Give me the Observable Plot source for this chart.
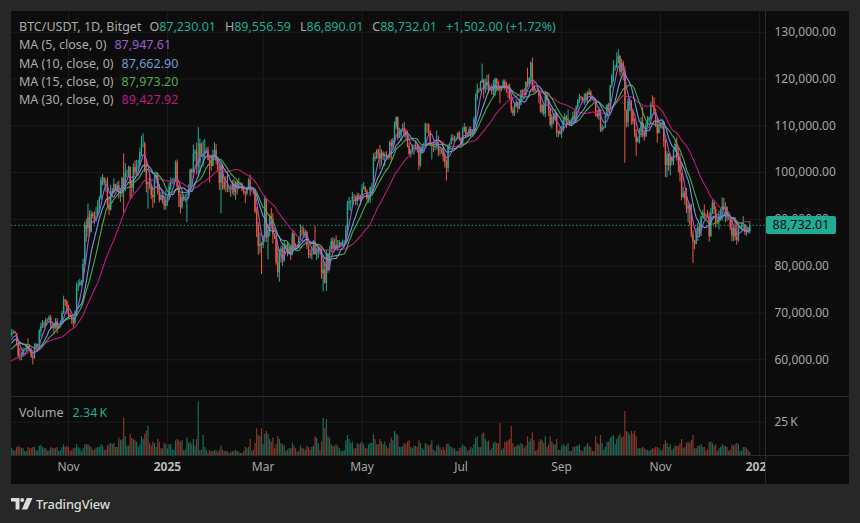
<!DOCTYPE html>
<html><head><meta charset="utf-8">
<script src="https://cdn.jsdelivr.net/npm/d3@7"></script>
<script src="https://cdn.jsdelivr.net/npm/@observablehq/plot@0.6"></script>
<style>
html,body{margin:0;padding:0;background:#272727;}
#wrap{position:relative;width:860px;height:523px;background:#272727;overflow:hidden;font-family:"Noto Sans","DejaVu Sans",sans-serif;}
.abs{position:absolute;}
.lbl{color:#ababab;}
.row{white-space:nowrap;height:18.3px;line-height:18.3px;font-size:12.5px;}
</style></head><body>
<div id="wrap">
  <div class="abs" style="left:11px;top:11px;width:838px;height:473px;background:#0c0c0c"></div>
  <div class="abs" id="price" style="left:11px;top:11px;width:838px;height:385px"></div>
  <div class="abs" id="vol" style="left:11px;top:396px;width:838px;height:88px"></div>
  <div class="abs" style="left:766px;top:456px;width:83px;height:28px;background:#0c0c0c"></div>
  <div class="abs" style="left:765px;top:11px;width:1px;height:473px;background:#2b2b2b"></div>
  <div class="abs" style="left:11px;top:396px;width:838px;height:1px;background:#2b2b2b"></div>
  <div class="abs" style="left:11px;top:455px;width:838px;height:1px;background:#2b2b2b"></div>
  <div class="abs" id="pricelabel"></div>
  <div class="abs" id="legend" style="left:19px;top:18px"></div>
  <div class="abs" id="vlegend" style="left:19px;top:404px"></div>
  <div class="abs" id="msg" style="left:300px;top:300px;color:yellow;font-size:14px"></div>
  <div class="abs" style="left:11px;top:497px;display:flex;align-items:center;">
    <svg width="22" height="12" viewBox="0 0 22 12"><path d="M0 0H8.5V11.5H4.6V3.6H0Z" fill="#dcdcdc"/><circle cx="11.2" cy="2" r="2" fill="#dcdcdc"/><path d="M15.8 0H21.5L16.3 11.5H10.8Z" fill="#dcdcdc"/></svg>
    <span style="margin-left:3px;color:#dcdcdc;font-size:12.8px;font-weight:500;line-height:14px;letter-spacing:-0.1px">TradingView</span>
  </div>
</div>
<script>
// ---------- DATA (prices in thousands of USDT, volume in thousands of BTC) ----------
// closes 2024-08-28 .. 2024-09-26 (only used to warm up the moving averages)
const warmupClose = [59.0,59.4,59.1,58.97,57.3,59.1,57.5,58.0,56.2,53.95,54.15,54.85,57.0,57.65,57.35,58.1,60.55,60.0,59.15,58.2,60.3,61.75,62.95,63.2,63.35,63.58,63.33,64.3,63.15,65.18];
const firstDay = "2024-09-27";
const close = [
65.79,65.89,65.60,63.33,
60.80,60.65,60.75,62.07,62.09,62.82,62.22,62.13,60.58,60.27,62.45,63.20,62.85,66.05,67.05,67.60,67.40,68.40,68.36,69.00,67.37,67.38,66.65,68.16,66.60,67.00,67.95,69.90,72.70,72.35,70.20,
69.50,69.35,68.75,67.80,69.35,75.60,75.90,76.50,76.70,80.35,88.70,87.95,90.40,87.30,91.05,90.60,89.85,90.50,92.30,94.30,98.30,98.90,97.75,97.95,93.00,91.95,95.95,95.65,97.45,96.40,
97.20,95.85,96.00,98.75,97.00,99.85,99.90,101.10,97.30,96.65,101.10,100.00,101.40,101.40,104.30,106.05,106.10,100.20,97.45,97.75,97.20,95.10,94.70,98.70,99.30,95.70,94.10,95.10,93.70,92.80,93.50,
94.60,96.90,98.10,98.20,98.30,102.10,96.90,95.00,92.50,94.70,94.50,94.50,94.50,96.50,100.50,99.90,104.10,104.40,101.30,102.00,106.10,103.60,103.90,104.70,104.70,102.60,102.10,101.30,103.70,104.70,102.40,
100.60,97.70,101.40,97.90,96.60,96.60,96.50,96.50,96.40,97.40,95.70,97.90,96.60,97.50,97.60,96.10,95.80,95.50,96.60,98.30,96.10,96.50,96.20,91.60,88.70,84.20,84.70,84.40,
86.00,94.30,86.10,87.20,90.60,89.90,86.80,86.20,80.70,78.60,82.90,83.70,81.10,84.00,84.30,82.60,84.10,82.70,86.80,84.20,84.00,83.80,86.10,87.50,87.40,86.90,87.20,84.40,82.60,82.30,82.50,
85.10,82.50,83.10,83.80,83.50,78.40,79.20,76.30,82.60,79.60,83.40,85.30,83.70,84.50,83.60,84.00,84.90,84.40,85.00,85.10,87.50,93.40,93.70,93.90,94.70,94.60,93.80,95.00,94.30,94.20,
96.50,96.90,95.90,94.30,94.70,96.80,97.00,103.20,102.90,104.60,104.10,102.80,104.10,103.50,103.70,103.50,103.10,106.40,105.60,106.80,109.70,111.70,107.30,107.80,109.00,109.40,108.90,107.80,105.60,103.90,104.60,
105.70,105.80,105.40,104.70,101.50,104.30,105.60,105.70,110.30,110.20,108.70,105.90,106.00,105.40,105.60,106.80,104.60,104.80,104.60,103.30,102.10,100.90,105.50,106.00,107.30,106.90,107.10,107.30,108.40,107.10,
105.70,108.80,109.60,108.00,108.20,109.20,108.20,108.90,111.30,115.90,117.50,117.40,119.10,119.80,117.70,118.70,119.30,117.90,117.90,117.30,117.40,119.90,118.80,118.40,117.60,117.90,119.40,118.00,117.90,117.80,115.80,
113.30,112.50,114.20,115.00,114.10,115.00,117.50,116.60,116.50,119.30,118.70,120.10,123.30,118.30,117.40,117.50,117.40,116.20,112.90,114.30,112.50,116.90,115.40,113.50,110.10,111.80,111.20,112.60,108.40,108.80,108.20,
109.20,111.20,111.70,110.70,110.70,110.20,111.10,112.00,111.50,113.90,115.50,116.10,115.90,115.30,115.30,116.80,116.50,117.10,115.70,115.70,115.20,112.70,112.00,113.30,109.00,109.60,109.70,112.10,114.40,114.00,
118.60,120.60,122.30,122.40,123.50,124.80,121.40,123.30,121.70,113.20,110.70,115.20,115.30,113.10,110.80,108.20,106.50,107.20,108.60,110.60,108.50,107.60,110.10,111.00,111.60,114.50,114.10,112.90,110.10,108.30,109.60,
110.10,110.60,106.50,101.50,103.90,101.30,103.30,102.30,104.70,106.00,103.00,101.60,99.70,94.60,95.60,94.20,92.20,92.90,91.50,86.60,85.10,84.70,86.80,88.30,87.30,90.50,91.30,90.90,90.80,90.40,
86.30,91.30,93.50,92.10,89.40,89.30,90.40,90.60,92.70,92.00,92.50,90.30,90.30,88.20,86.40,87.80,86.20,85.50,88.10,88.30,88.60,88.60,87.40,87.60,87.23001,88.73201];
const high = [
66.50,66.26,66.10,65.60,
64.10,62.40,61.50,62.50,62.40,63.00,64.50,63.20,62.50,61.30,63.40,63.50,63.30,66.50,67.90,68.40,68.10,68.90,68.70,69.40,69.50,67.80,67.50,68.80,68.80,67.40,68.30,70.30,73.60,72.90,72.70,
71.60,70.00,69.40,69.00,70.50,76.40,76.90,77.20,76.90,81.50,89.40,89.90,93.30,91.80,91.80,91.50,91.60,92.60,94.00,94.90,99.00,99.60,98.80,98.60,98.90,94.70,97.30,96.60,98.70,97.50,
97.90,98.20,96.40,99.00,104.00,101.90,100.50,101.40,101.20,98.30,101.90,102.50,102.60,102.60,105.20,107.80,108.30,106.50,102.80,98.10,99.50,97.40,96.40,99.40,99.90,99.90,97.40,95.70,95.20,94.90,96.10,
94.90,97.80,98.90,98.70,98.80,102.50,102.70,97.30,95.30,95.80,95.00,95.30,95.80,97.40,100.70,100.80,105.90,104.90,106.30,109.60,107.20,106.30,106.80,107.10,105.20,105.50,103.20,103.80,104.80,106.40,106.00,
102.80,101.50,102.50,101.80,99.00,99.20,100.10,96.90,97.30,98.30,98.50,98.10,98.00,98.80,97.90,97.70,97.00,96.00,96.90,98.70,99.50,96.90,96.70,96.50,92.50,89.30,87.10,85.10,
86.60,95.00,94.40,88.90,91.00,92.30,91.20,86.90,86.50,84.00,83.60,84.30,84.30,85.30,84.70,85.00,84.70,84.10,87.40,87.40,84.80,84.50,86.20,88.80,88.50,88.30,87.80,87.50,84.60,83.50,83.90,
85.50,88.50,83.90,84.70,84.20,83.90,81.20,80.80,83.50,82.70,84.20,85.90,86.10,85.80,86.50,85.50,85.50,85.10,85.60,85.40,88.50,93.90,94.70,94.00,95.80,95.30,95.00,95.60,95.50,95.20,
97.40,97.90,96.90,96.30,95.20,96.90,97.70,104.00,104.30,104.90,105.00,105.80,104.90,104.40,104.20,104.50,103.70,106.70,107.10,107.30,110.80,111.90,111.90,109.50,109.30,110.40,110.70,109.30,108.90,106.30,104.90,
105.90,105.90,106.80,106.00,105.90,105.30,106.00,106.30,110.60,110.40,110.40,108.90,106.20,106.20,105.90,108.90,107.80,105.60,105.20,106.50,103.90,102.70,106.00,106.30,108.10,108.00,107.80,107.60,108.50,108.80,
107.50,109.70,110.50,109.80,108.50,109.70,109.70,109.20,111.90,116.80,118.90,118.00,119.50,123.20,119.90,120.00,120.80,120.90,118.20,118.90,119.70,120.20,120.10,119.50,118.50,118.30,119.80,119.80,119.30,118.80,118.90,
116.00,114.00,114.70,115.70,115.10,115.70,117.60,117.70,117.90,119.30,122.30,120.30,123.70,124.50,119.20,117.90,118.60,117.60,116.80,114.60,114.60,117.40,117.00,115.80,113.80,112.40,112.60,113.50,112.70,108.90,109.50,
109.90,111.80,112.60,112.20,113.40,111.00,111.60,112.90,113.20,114.30,115.50,116.70,116.30,116.10,116.80,117.00,117.30,117.90,117.50,116.30,115.90,115.40,113.30,113.90,113.40,110.30,109.80,112.30,114.50,114.80,
118.60,121.00,123.90,122.90,125.60,126.20,125.10,124.20,123.80,122.60,113.40,115.80,116.00,115.30,113.60,111.50,109.20,107.60,109.40,111.70,114.00,109.00,110.50,112.00,111.90,115.00,116.40,116.00,113.60,111.60,111.20,
110.60,111.20,110.80,107.00,104.50,104.00,104.00,103.40,105.00,106.70,107.40,105.30,104.00,99.80,96.80,96.00,96.60,93.80,93.10,93.20,87.50,85.50,88.00,89.20,88.50,90.60,91.90,93.10,91.20,91.90,
91.40,92.30,94.10,94.00,92.70,90.30,91.80,92.30,94.60,94.50,93.60,92.70,90.60,90.50,90.00,88.20,90.40,89.50,89.40,88.60,89.10,90.60,88.90,87.90,88.00,89.55659];
const low = [
64.80,65.44,65.40,62.90,
60.20,59.80,59.80,60.50,61.70,61.80,62.10,61.80,60.30,58.90,60.10,62.40,62.00,62.40,64.80,66.70,66.70,67.10,68.00,68.10,66.60,66.60,65.30,66.50,65.60,66.50,66.80,67.60,69.70,71.40,69.70,
68.80,69.00,67.50,66.80,67.40,69.30,74.60,75.60,75.80,76.50,80.20,85.10,86.20,86.60,87.10,90.10,88.90,89.40,90.90,91.50,94.10,97.20,97.10,95.80,92.60,90.80,91.80,94.60,95.40,96.10,
95.70,94.40,93.60,94.70,91.30,95.90,98.80,98.90,94.20,94.30,95.60,99.30,99.20,100.60,101.20,103.30,105.30,100.00,95.70,92.20,96.40,94.20,92.40,93.40,97.60,95.20,93.50,94.00,93.30,91.90,92.00,
92.80,94.20,96.20,97.50,97.30,97.90,96.10,92.50,91.20,92.20,93.80,93.60,89.30,94.30,96.50,97.30,99.90,102.30,99.50,99.60,100.10,103.30,101.20,102.80,104.10,102.50,97.80,100.30,101.30,103.30,101.60,
100.30,96.20,91.20,96.20,96.20,95.70,95.70,95.70,94.70,95.30,94.90,94.10,95.20,96.30,97.20,96.00,95.20,93.40,95.00,96.40,94.90,95.80,95.20,91.20,86.10,82.30,82.70,78.20,
83.80,85.00,85.10,81.40,86.30,87.80,84.70,85.70,80.20,77.50,76.60,80.60,79.90,80.80,83.60,82.00,82.40,81.20,82.20,83.20,83.20,83.60,83.80,85.60,86.40,85.90,85.90,83.60,81.60,81.60,81.30,
82.40,82.30,81.20,81.60,82.40,77.20,74.50,76.20,74.60,78.50,78.90,82.80,82.90,83.20,83.60,83.10,83.80,84.20,84.30,83.90,85.00,87.00,91.90,91.70,92.90,93.90,93.00,92.80,93.90,92.90,
94.10,96.30,95.70,93.90,93.50,93.40,95.80,96.90,102.30,102.80,103.00,100.70,101.40,102.60,101.30,103.10,102.60,102.90,102.10,104.90,106.20,109.20,106.80,107.30,106.60,108.70,107.50,106.80,105.30,103.60,103.10,
103.90,103.70,105.00,104.20,100.40,101.10,103.90,104.90,105.30,108.40,108.10,105.60,102.70,104.30,104.60,105.00,103.40,103.60,103.90,102.30,101.00,98.20,100.00,104.70,105.90,106.60,106.40,106.90,107.20,106.70,
105.30,105.60,108.50,107.30,107.80,107.80,107.50,107.50,108.40,110.60,115.30,116.90,117.30,119.10,115.70,116.90,117.50,116.80,117.40,116.50,116.50,116.20,117.30,117.30,114.70,117.20,117.90,117.50,116.90,115.80,115.50,
112.70,112.00,112.00,114.10,112.70,113.40,114.30,115.90,116.30,116.50,118.10,118.20,118.90,117.20,116.80,117.20,117.20,114.70,112.70,112.40,112.00,111.70,114.60,112.00,109.70,109.30,110.30,110.90,107.50,107.40,108.00,
107.30,108.60,110.50,109.40,110.00,110.00,110.00,110.60,110.80,110.90,113.40,114.70,115.30,114.80,114.40,114.80,114.70,116.50,115.10,115.40,115.10,111.90,111.50,111.10,108.60,108.60,109.10,109.40,111.60,112.70,
113.90,118.00,119.30,121.60,122.20,123.20,120.60,121.10,119.60,102.00,109.60,109.70,113.00,110.10,110.20,107.50,103.50,106.30,106.10,107.50,107.40,106.70,107.50,109.60,110.60,111.30,113.90,112.20,109.60,106.30,108.40,
109.40,109.30,105.30,98.90,98.90,100.30,99.30,101.50,101.50,104.30,102.50,100.00,98.00,94.00,94.60,93.00,91.20,89.30,88.60,86.10,80.60,83.50,84.60,85.30,86.10,86.30,90.10,90.20,90.30,90.30,
85.10,86.20,91.00,91.00,88.10,88.90,87.70,89.60,89.60,91.60,89.30,89.50,89.80,87.60,85.20,85.30,85.40,84.50,85.10,87.90,87.60,87.90,86.60,86.40,86.90,86.89001];
const volume = [
5,3.5,3.5,6,
7,6,5.5,5,3,3,6,5,5,6,6,3.5,3.5,7,7.5,6,5,5,3,3.5,6,5,5.5,5,6,3,3.5,6,8,6,7,
6,3,4,5,5.5,8,6,5,3,5,8,8,8,7,6,4,4,5.5,6,6,8,7,4,4,7,8,9,8,9,6,
6,13,11,12,28,14,7,7,16,13,12,11,10,6,8,14,12,16,18,22,9,7,10,9,6,12,10,5,5,9,8,
5,8,8,4,4,11,12,11,10,11,4,4,13,9,10,8,12,7,12,40,4,4,15,6,4,2,4,3,3,3.5,3.5,
2.5,4,7,4,3,3,3,1.5,2,3,3,4,3,2.5,1.5,1.5,3,6,5,6,12,3,4,9,20,15,14,20,
8,16,18,16,12,10,13,5,8,14,12,9,8,7,3,4,5,5,9,7,5,2.5,3,7,5,5,4,7,6,4,6,
7,14,13,9,4,10,28,20,27,14,13,8,7,7,8,7,5,3,3,4,11,15,12,9,10,5,5,9,8,9,
10,8,5,5,8,9,9,15.5,12,8,8,12,10,8,10,7,5,9,13,11,18,16,15,6,6,7,9,8,10,11,6,
5,7,7,6,11,9,5,4,9,8,7,8,11,4,3,7,8,6,4,6,4,8,9,7,6,5,5,3,3,5,
6,8,7,6,3,4,6,5,8,13,14,6,6,16,17,12,10,11,4,5,9,10,9,9,24,4,5,10,10,11,12,
22,9,6,7,8,7,9,8,5,7,14,10,12,17,11,3,4,10,12,11,9,14,6,8,14,10,8,8,12,4,4,
7,8,7,7,9,3,3,6,6,7,7,8,4,3,6,7,9,7,6,3,3,14,9,8,15,9,4,6,10,10,
13,14,15,8,12,14,16,13,14,33,18,17,15,18,16,18,14,5,5,5,6,5,4,4,3,4,5,5,6,6,5,
3,4,8,11,9,6,8,4,5,7,7,7,9,12,5,6,9,10,9,11,15,5,5,7,7,8,6,6,3,4,
10,10,9,7,8,3,5,6,8,7,7,6,3,4,8,7,8,9,8,3,3,6,6,5,4,2.34];
// legend values as shown
const maPeriods = [5, 10, 15, 30];
const maLegend = ["87,947.61", "87,662.90", "87,973.20", "89,427.92"];
const headerOHLC = ["87,230.01", "89,556.59", "86,890.01", "88,732.01"];
const headerChange = "+1,502.00 (+1.72%)";
const volumeLegend = "2.34\u2009K";
const priceTicks = [60, 70, 80, 90, 100, 110, 120, 130];
const volumeTicks = [25];
const timeTicks = ["2024-11-01","2025-01-01","2025-03-01","2025-05-01","2025-07-01","2025-09-01","2025-11-01","2026-01-01"];
const timeLabels = ["Nov","2025","Mar","May","Jul","Sep","Nov","2026"];

// ---------- STYLE ----------
const UP = "#22ab94", DOWN = "#f0583f";
const VUP = "#136e5c", VDOWN = "#8a3629";
const MA_COLORS = ["#9c5fce", "#6d9fd8", "#4aab50", "#bd1a7e"];
const GRID = "#1c1c1c";
const TXT = "#a6a6a6";
const FONT = '"Noto Sans","DejaVu Sans",sans-serif';

const DAY = 864e5;
const t0 = Date.parse(firstDay + "T00:00:00Z");
const n = close.length;
if (high.length !== n || low.length !== n || volume.length !== n) {
  document.getElementById("msg").textContent = `len mismatch c${n} h${high.length} l${low.length} v${volume.length}`;
}
const allClose = warmupClose.concat(close);
const W = warmupClose.length;
const candles = close.map((c, i) => ({
  date: new Date(t0 + i * DAY),
  open: allClose[W + i - 1], close: c, high: high[i], low: low[i], volume: volume[i]
}));
candles.forEach(d => d.up = d.close >= d.open);
const maSeries = maPeriods.map(p => candles.map((d, i) => ({
  date: d.date, value: d3.mean(allClose.slice(W + i - p + 1, W + i + 1))
})));

// x scale: Nov 1 2024 sits 57px from the pane's left edge, 1.622px per day
const NOV1 = Date.parse("2024-11-01T00:00:00Z");
const PANE_W = 754, NOV_PX = 57, PX_DAY = 1.622;
const xDomain = [new Date(NOV1 - NOV_PX / PX_DAY * DAY), new Date(NOV1 + (PANE_W - NOV_PX) / PX_DAY * DAY)];
const ticks = timeTicks.map((s, i) => ({date: new Date(s + "T00:00:00Z"), label: timeLabels[i], year: /^\d{4}$/.test(timeLabels[i])}));
const last = candles[n - 1];

const pricePlot = Plot.plot({
  width: 838, height: 385,
  marginLeft: 0, marginRight: 84, marginTop: 0, marginBottom: 0,
  style: {background: "transparent", fontFamily: FONT, fontSize: "12px", color: TXT},
  x: {type: "utc", domain: xDomain, axis: null},
  y: {domain: [52.158, 134.423], axis: null, label: null},
  color: {type: "identity"},
  marks: [
    Plot.gridX(ticks, {x: "date", stroke: GRID, strokeOpacity: 1}),
    Plot.gridY(priceTicks, {stroke: GRID, strokeOpacity: 1}),
    Plot.axisY(priceTicks, {anchor: "right", tickSize: 0, tickPadding: 9, fontSize: 12, label: null,
      tickFormat: d => d3.format(",.2f")(d * 1000)}),
    Plot.ruleY([last.close], {stroke: UP, strokeDasharray: "1.2,2.4", strokeWidth: 1}),
    Plot.ruleX(candles, {x: "date", y1: "low", y2: "high", stroke: d => d.up ? UP : DOWN, strokeWidth: 1, clip: true}),
    Plot.ruleX(candles, {x: "date", y1: "open", y2: "close", stroke: d => d.up ? UP : DOWN, strokeWidth: 1.4, clip: true}),
    ...[3, 2, 1, 0].map(k => Plot.line(maSeries[k], {x: "date", y: "value", stroke: MA_COLORS[k], strokeWidth: 1.1, clip: true}))
  ]
});
document.getElementById("price").append(pricePlot);

const volPlot = Plot.plot({
  width: 838, height: 88,
  marginLeft: 0, marginRight: 84, marginTop: 0, marginBottom: 29,
  style: {background: "transparent", fontFamily: FONT, fontSize: "12px", color: TXT},
  x: {type: "utc", domain: xDomain, axis: null},
  y: {domain: [0, 44.3], axis: null, label: null},
  color: {type: "identity"},
  marks: [
    Plot.gridX(ticks, {x: "date", stroke: GRID, strokeOpacity: 1}),
    Plot.gridY(volumeTicks, {stroke: GRID, strokeOpacity: 1}),
    Plot.axisY(volumeTicks, {anchor: "right", tickSize: 0, tickPadding: 9, fontSize: 12, label: null, tickFormat: d => d + "\u2009K"}),
    Plot.ruleX(candles, {x: "date", y1: 0, y2: "volume", stroke: d => d.up ? VUP : VDOWN, strokeWidth: 1.2, clip: true}),
    Plot.text(ticks.filter(d => !d.year), {x: "date", text: "label", frameAnchor: "bottom", dy: 15, fill: TXT, fontSize: 12}),
    Plot.text(ticks.filter(d => d.year), {x: "date", text: "label", frameAnchor: "bottom", dy: 15, fill: "#b8b8b8", fontSize: 12, fontWeight: "bold"})
  ]
});
document.getElementById("vol").append(volPlot);

// current price label, positioned with the plot's own y scale
const py = pricePlot.scale("y").apply(last.close);
const pl = document.getElementById("pricelabel");
pl.style.cssText = `left:766px;top:${11 + py - 9}px;width:70px;height:18px;background:${UP};color:#0a0a0a;font-size:12.5px;line-height:18px;text-align:center;border-radius:2px;font-family:${FONT}`;
pl.textContent = d3.format(",.2f")(last.close * 1000);

// legends
const lg = document.getElementById("legend");
const names = ["O", "H", "L", "C"];
let h = `<div class="row"><span class="lbl">BTC/USDT, 1D, Bitget</span>`;
names.forEach((nm, i) => { h += `<span class="lbl" style="margin-left:${i ? 9 : 8}px">${nm}</span><span style="color:${UP}">${headerOHLC[i]}</span>`; });
h += `<span style="color:${UP};margin-left:9px">${headerChange}</span></div>`;
maPeriods.forEach((p, k) => { h += `<div class="row"><span class="lbl">MA (${p}, close, 0)</span><span style="color:${MA_COLORS[k]};margin-left:8px">${maLegend[k]}</span></div>`; });
lg.innerHTML = h;
document.getElementById("vlegend").innerHTML = `<div class="row"><span class="lbl">Volume</span><span style="color:${UP};margin-left:9px">${volumeLegend}</span></div>`;
</script>
</body></html>
